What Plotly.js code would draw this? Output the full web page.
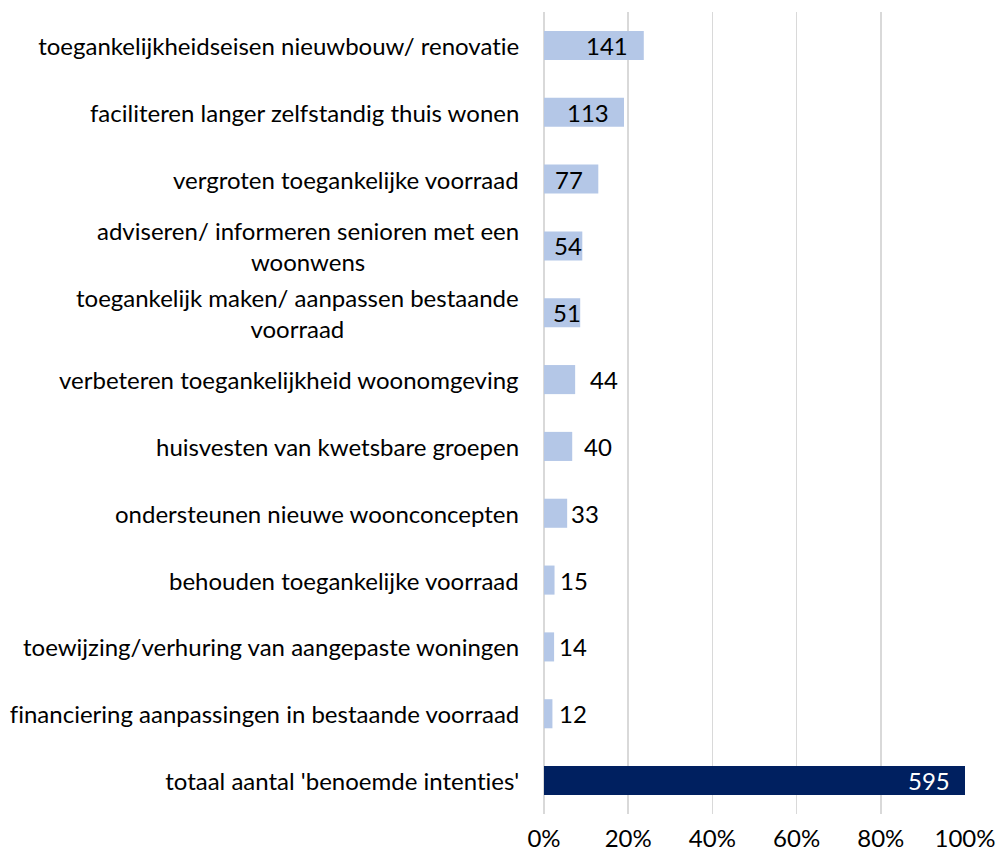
<!DOCTYPE html>
<html>
<head>
<meta charset="utf-8">
<script src="https://cdn.plot.ly/plotly-3.0.1.min.js"></script>
<style>
  html, body { margin: 0; padding: 0; background: #ffffff; }
  #chart { width: 997px; height: 856px; }
  #chart text { font-variant-ligatures: none; font-feature-settings: "liga" 0, "clig" 0; }
</style>
</head>
<body>
<div id="chart"></div>
<script>
// ---- data ----
const categories = [
  "toegankelijkheidseisen nieuwbouw/ renovatie",
  "faciliteren langer zelfstandig thuis wonen",
  "vergroten toegankelijke voorraad",
  "adviseren/ informeren senioren met een<br>woonwens",
  "toegankelijk maken/ aanpassen bestaande<br>voorraad",
  "verbeteren toegankelijkheid woonomgeving",
  "huisvesten van kwetsbare groepen",
  "ondersteunen nieuwe woonconcepten",
  "behouden toegankelijke voorraad",
  "toewijzing/verhuring van aangepaste woningen",
  "financiering aanpassingen in bestaande voorraad",
  "totaal aantal 'benoemde intenties'"
];
const counts = [141, 113, 77, 54, 51, 44, 40, 33, 15, 14, 12, 595];
const sharePct = [23.7, 19.0, 12.9, 9.1, 8.6, 7.4, 6.7, 5.5, 2.5, 2.4, 2.0, 100];
const xTickVals = [0, 20, 40, 60, 80, 100];
const xTickText = ["0%", "20%", "40%", "60%", "80%", "100%"];

// ---- styling ----
const FONT = "Lato, 'Open Sans', sans-serif";
const FS = 24;
const lightBlue = "#B4C7E7";
const darkBlue = "#002060";
const lastIdx = categories.length - 1;
const barColors = categories.map((c, i) => i === lastIdx ? darkBlue : lightBlue);
// value-label placement relative to the bar end (anchor side + pixel shift)
const labelAnchor = ["right", "right", "right", "right", "right", "left", "left", "left", "left", "left", "left", "right"];
const labelShift = [-14, -13, -13, 2, 3, 13, 10, 2, 3, 3, 5, -13];
const labelColor = categories.map((c, i) => i === lastIdx ? "#ffffff" : "#000000");

const trace = {
  type: "bar",
  orientation: "h",
  y: categories,
  x: sharePct,
  marker: { color: barColors, line: { width: 0 } },
  hoverinfo: "skip"
};

const annotations = [];
categories.forEach((c, i) => {
  annotations.push({
    xref: "paper", yref: "y", x: 0, y: c,
    xanchor: "right", yanchor: "middle", xshift: -23,
    text: c, showarrow: false, align: "center",
    font: { family: FONT, size: FS, color: "#000000" }
  });
  annotations.push({
    xref: "x", yref: "y", x: sharePct[i], y: c,
    xanchor: labelAnchor[i], yanchor: "middle", xshift: labelShift[i],
    text: String(counts[i]), showarrow: false,
    font: { family: FONT, size: FS, color: labelColor[i] }
  });
});

const layout = {
  width: 997, height: 856,
  margin: { l: 544, r: 32, t: 12, b: 42, pad: 0 },
  paper_bgcolor: "#ffffff", plot_bgcolor: "#ffffff",
  bargap: 0.565,
  showlegend: false,
  font: { family: FONT, size: FS, color: "#000000" },
  xaxis: {
    range: [0, 100], tickvals: xTickVals, ticktext: xTickText,
    showgrid: true, gridcolor: "#D9D9D9", gridwidth: 1.5,
    zeroline: true, zerolinecolor: "#D9D9D9", zerolinewidth: 1.5,
    showline: false, ticks: "",
    ticklabelstandoff: 8,
    tickfont: { family: FONT, size: FS, color: "#000000" },
    fixedrange: true
  },
  yaxis: {
    type: "category", autorange: "reversed",
    showticklabels: false, showgrid: false, zeroline: false, showline: false, ticks: "",
    fixedrange: true
  },
  annotations: annotations
};

Plotly.newPlot("chart", [trace], layout, { displayModeBar: false, staticPlot: true });
</script>
</body>
</html>
